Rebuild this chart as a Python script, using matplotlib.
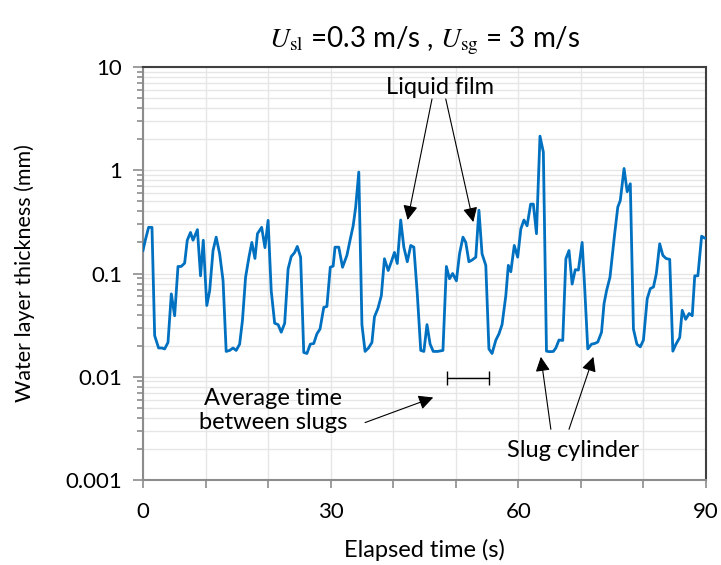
import matplotlib
matplotlib.use("Agg")
import matplotlib.pyplot as plt
from matplotlib.ticker import LogLocator, NullFormatter, MultipleLocator

plt.rcParams['font.family'] = ['Lato', 'DejaVu Sans']
plt.rcParams['mathtext.fontset'] = 'stix'

# elapsed time (s) and water layer thickness (mm)
time_s = [0.0, 0.37, 0.9, 1.44, 1.87, 2.5, 3.04, 3.46, 4.0, 4.53, 5.06, 5.6, 6.1, 6.66,
          7.08, 7.6, 8.0, 8.7, 9.2, 9.64, 10.2, 10.66, 11.2, 11.7, 12.26, 12.8, 13.3,
          13.85, 14.4, 14.9, 15.45, 15.9, 16.4, 16.94, 17.4, 17.9, 18.3, 18.97, 19.5,
          20.0, 20.5, 21.05, 21.6, 22.1, 22.65, 23.2, 23.7, 24.25, 24.67, 25.2, 25.7,
          26.2, 26.75, 27.3, 27.8, 28.3, 28.9, 29.4, 29.94, 30.4, 30.7, 31.3, 31.9,
          32.6, 33.1, 33.6, 34.0, 34.5, 35.0, 35.5, 36.05, 36.6, 37.0, 37.56, 38.1,
          38.6, 39.2, 39.7, 40.2, 40.65, 41.2, 41.7, 42.25, 42.8, 43.3, 43.85, 44.4,
          44.9, 45.4, 45.9, 46.4, 47.1, 47.95, 48.5, 49.0, 49.5, 50.1, 50.6, 51.15,
          51.6, 52.1, 52.6, 53.2, 53.7, 54.2, 54.8, 55.3, 55.8, 56.4, 56.9, 57.4,
          58.0, 58.4, 58.8, 59.35, 59.9, 60.4, 60.9, 61.4, 61.97, 62.4, 62.9, 63.46,
          64.0, 64.5, 65.0, 65.6, 66.0, 66.5, 67.1, 67.6, 68.1, 68.6, 69.1, 69.6,
          70.2, 70.6, 71.1, 71.7, 72.2, 72.7, 73.3, 73.7, 74.1, 74.65, 75.4, 75.9,
          76.3, 76.9, 77.4, 77.9, 78.4, 78.95, 79.5, 80.0, 80.6, 81.1, 81.6, 82.05,
          82.6, 83.1, 83.6, 84.2, 84.7, 85.2, 85.8, 86.2, 86.75, 87.3, 87.8, 88.2,
          88.7, 89.3, 89.8, 90.0]
thickness_mm = [0.167, 0.21, 0.28, 0.28, 0.025, 0.019, 0.019, 0.0186, 0.0215, 0.0635,
                0.039, 0.117, 0.117, 0.126, 0.21, 0.25, 0.21, 0.266, 0.095, 0.21,
                0.049, 0.068, 0.167, 0.225, 0.155, 0.0855, 0.0176, 0.018, 0.019, 0.018,
                0.0207, 0.035, 0.092, 0.144, 0.2, 0.14, 0.243, 0.28, 0.178, 0.327,
                0.068, 0.033, 0.032, 0.027, 0.033, 0.111, 0.146, 0.16, 0.183, 0.144,
                0.0172, 0.0168, 0.0207, 0.021, 0.026, 0.029, 0.047, 0.048, 0.115, 0.118,
                0.18, 0.18, 0.115, 0.15, 0.21, 0.29, 0.44, 0.96, 0.032, 0.0176,
                0.019, 0.0215, 0.038, 0.046, 0.061, 0.139, 0.107, 0.13, 0.16, 0.125,
                0.33, 0.18, 0.13, 0.187, 0.18, 0.0635, 0.018, 0.0176, 0.032, 0.0207,
                0.0176, 0.0176, 0.018, 0.117, 0.089, 0.1, 0.085, 0.155, 0.225, 0.2,
                0.13, 0.135, 0.144, 0.41, 0.155, 0.12, 0.0186, 0.0168, 0.0226, 0.026,
                0.032, 0.061, 0.12, 0.104, 0.187, 0.144, 0.27, 0.33, 0.29, 0.47,
                0.47, 0.243, 2.14, 1.5, 0.0177, 0.0175, 0.0176, 0.019, 0.0227, 0.0225,
                0.139, 0.167, 0.079, 0.109, 0.108, 0.2, 0.074, 0.0186, 0.0207, 0.021,
                0.0217, 0.027, 0.051, 0.068, 0.092, 0.243, 0.44, 0.51, 1.04, 0.62,
                0.74, 0.029, 0.0207, 0.0195, 0.0227, 0.057, 0.0715, 0.074, 0.099, 0.194,
                0.15, 0.14, 0.137, 0.0177, 0.0207, 0.024, 0.044, 0.036, 0.041, 0.039,
                0.095, 0.095, 0.23, 0.22, 0.22]

x_ticks = [0, 30, 60, 90]
y_ticks = [0.001, 0.01, 0.1, 1, 10]
y_ticklabels = ["0.001", "0.01", "0.1", "1", "10"]

# scale bar: average time between slugs
bar_start, bar_end, bar_level = 48.6, 55.3, 0.0098

fig = plt.figure(figsize=(7.21, 5.65), dpi=100)
ax = fig.add_axes([0.1983, 0.1504, 0.7809, 0.731])

ax.plot(time_s, thickness_mm, color="#0070C0", lw=2.0, zorder=3)

ax.set_yscale("log")
ax.set_xlim(0, 90)
ax.set_ylim(0.001, 10)
ax.set_yticks(y_ticks)
ax.set_yticklabels(y_ticklabels)
ax.yaxis.set_minor_locator(LogLocator(base=10, subs=range(2, 10), numticks=20))
ax.yaxis.set_minor_formatter(NullFormatter())
ax.set_xticks(x_ticks)
ax.xaxis.set_minor_locator(MultipleLocator(10))

ax.grid(True, which="both", color="#e6e6e6", lw=1.0, zorder=0)
ax.set_axisbelow(True)

for side in ["left", "bottom"]:
    ax.spines[side].set_color("#8c8c8c")
    ax.spines[side].set_linewidth(1.5)
for side in ["top", "right"]:
    ax.spines[side].set_color("#404040")
    ax.spines[side].set_linewidth(1.5)

ax.tick_params(axis="both", which="both", color="#8c8c8c", width=1.2, labelsize=16)
ax.tick_params(axis="y", which="major", length=7, pad=8)
ax.tick_params(axis="y", which="minor", length=4)
ax.tick_params(axis="x", which="both", length=6, pad=10)

ax.set_xlabel("Elapsed time (s)", fontsize=17, labelpad=12)
ax.set_ylabel("Water layer thickness (mm)", fontsize=15.5, labelpad=22)
ax.set_title(r"$U_{\mathrm{sl}}$ =0.3 m/s , $U_{\mathrm{sg}}$ = 3 m/s", fontsize=20, pad=14)

# annotations
arrow = dict(arrowstyle="-|>", color="black", lw=0.8, mutation_scale=22, shrinkA=0, shrinkB=0)
ax.text(47.5, 6.4, "Liquid film", ha="center", va="center", fontsize=17)
ax.annotate("", xy=(42.3, 0.33), xytext=(46.2, 4.9), arrowprops=arrow)
ax.annotate("", xy=(52.8, 0.315), xytext=(48.4, 4.9), arrowprops=arrow)

ax.errorbar([(bar_start + bar_end) / 2], [bar_level], xerr=[(bar_end - bar_start) / 2],
            fmt="none", ecolor="black", elinewidth=1.0, capsize=5, capthick=1.0)
ax.text(20.8, 0.0047, "Average time\nbetween slugs", ha="center", va="center",
        fontsize=17, linespacing=1.15)
ax.annotate("", xy=(46.4, 0.0063), xytext=(35.5, 0.0036), arrowprops=arrow)

ax.text(68.7, 0.00195, "Slug cylinder", ha="center", va="center", fontsize=17)
ax.annotate("", xy=(63.6, 0.0156), xytext=(65.2, 0.0031), arrowprops=arrow)
ax.annotate("", xy=(72.0, 0.0156), xytext=(68.1, 0.0031), arrowprops=arrow)

fig.savefig("out.png", dpi=100)
